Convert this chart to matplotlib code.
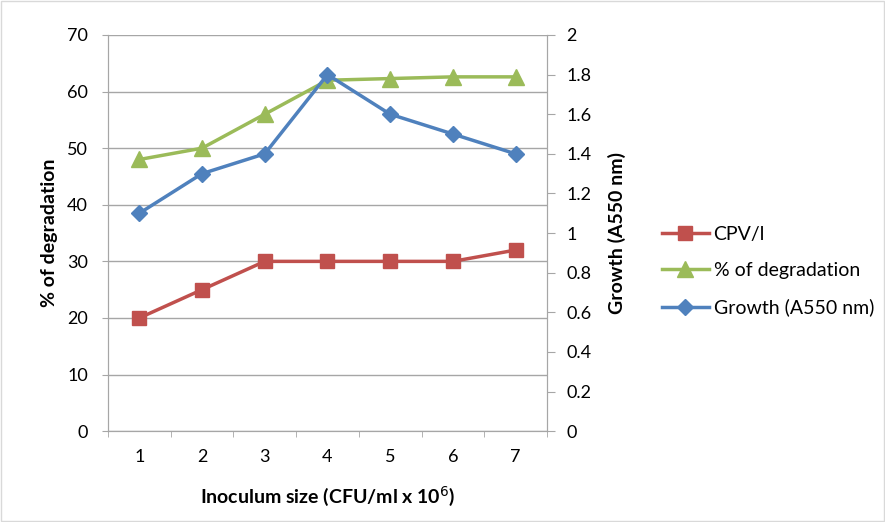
import numpy as np
import matplotlib.pyplot as plt

plt.rcParams['font.family'] = ['Lato', 'DejaVu Sans']

# inoculum size categories and the three series
sizes = ['1', '2', '3', '4', '5', '6', '7']
cpv = [20, 25, 30, 30, 30, 30, 32]
degradation = [48, 50, 56, 62, 62.3, 62.6, 62.6]
growth = [1.1, 1.3, 1.4, 1.8, 1.6, 1.5, 1.4]

red = '#C0504D'
green = '#9BBB59'
blue = '#4F81BD'
grid = '#A6A6A6'

fig = plt.figure(figsize=(8.85, 5.22), dpi=100)
ax = fig.add_axes([0.122, 0.174, 0.496, 0.759])
ax2 = ax.twinx()

x = np.arange(1, len(sizes) + 1)

l1, = ax.plot(x, cpv, color=red, lw=2.5, marker='s', ms=10, label='CPV/l')
l2, = ax.plot(x, degradation, color=green, lw=2.5, marker='^', ms=11, label='% of degradation')
l3, = ax2.plot(x, growth, color=blue, lw=2.5, marker='D', ms=8, label='Growth (A550 nm)')

ax.set_xlim(0.5, 7.5)
ax.set_ylim(0, 70)
ax.set_yticks(range(0, 71, 10))
ax2.set_ylim(0, 2)
ax2.set_yticks(np.arange(0, 2.01, 0.2))
ax2.set_yticklabels(['0', '0.2', '0.4', '0.6', '0.8', '1', '1.2', '1.4', '1.6', '1.8', '2'])

ax.set_xticks(x)
ax.set_xticklabels(sizes)
ax.set_xticks(np.arange(0.5, 7.6, 1), minor=True)
ax.tick_params(axis='x', which='major', length=0, pad=13, labelsize=13)
ax.tick_params(axis='x', which='minor', length=4.5, color=grid)
ax.tick_params(axis='y', length=4.5, color=grid, labelsize=13, pad=10)
ax2.tick_params(axis='y', length=6, color=grid, labelsize=13, pad=8)

ax.yaxis.grid(True, color=grid, lw=1)
ax.set_axisbelow(True)
for a in (ax, ax2):
    a.spines['top'].set_visible(False)
    for s in ('left', 'right', 'bottom'):
        a.spines[s].set_color(grid)

ax.set_xlabel('Inoculum size (CFU/ml x 10$^{6}$)', fontsize=14, fontweight='bold')
ax.set_ylabel('% of degradation', fontsize=14, fontweight='bold')
ax2.set_ylabel('Growth (A550 nm)', fontsize=14, fontweight='bold')
ax.xaxis.set_label_coords(0.5, -0.134)
ax.yaxis.set_label_coords(-0.114, 0.5)
ax2.yaxis.set_label_coords(1.139, 0.5)

fig.legend(handles=[l1, l2, l3], loc='center left', bbox_to_anchor=(0.748, 0.481),
           frameon=False, fontsize=14, handlelength=2.4, labelspacing=1.0,
           handletextpad=0.25, borderpad=0, borderaxespad=0)

fig.patches.append(plt.Rectangle((0.001, 0.001), 0.998, 0.998, transform=fig.transFigure,
                                 fill=False, edgecolor='#D9D9D9', lw=1))

fig.savefig('out.png', dpi=100)
